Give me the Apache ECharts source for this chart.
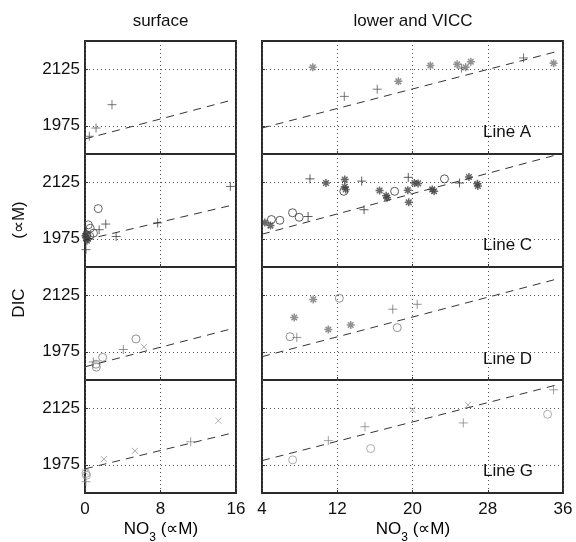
<!DOCTYPE html>
<html>
<head>
<meta charset="utf-8">
<script src="https://cdn.jsdelivr.net/npm/echarts@6/dist/echarts.min.js"></script>
<style>
  html, body { margin: 0; padding: 0; background: #fff; }
  #chart { width: 576px; height: 542px; }
</style>
</head>
<body>
<div id="chart"></div>
<script>
// tick values
const yTicks = [1975, 2125];
const surfTicks = [0, 8, 16];
const lowerTicks = [4, 12, 20, 28, 36];
const lineNames = ["Line A", "Line C", "Line D", "Line G"];

// Line A
const surfA_plus = [[0.46, 1947], [1.17, 1969], [2.86, 2031]];
const surfA_fit = [[0, 1940], [15.4, 2042]];
const lowA_plus = [[12.75, 2053], [16.25, 2072], [25.2, 2128], [31.8, 2155]];
const lowA_star = [[9.4, 2130], [18.5, 2093], [21.9, 2135], [24.75, 2138], [25.65, 2130], [26.2, 2145], [35.0, 2141]];
const lowA_fit = [[4, 1969], [35.5, 2173]];

// Line C
const surfC_plus = [[0.1, 1946], [1.5, 1999], [2.2, 2014], [3.3, 1981], [7.7, 2017], [15.4, 2114]];
const surfC_circ = [[1.4, 2055], [0.35, 2012], [0.55, 2003], [0.9, 1990], [0.2, 1985], [0.5, 1982]];
const surfC_star = [[0.05, 1983], [0.1, 1978], [0.2, 1970], [0.3, 1975], [0.15, 1988]];
const surfC_fit = [[0, 1972], [15.4, 2063]];
const lowC_plus = [[8.9, 2034], [9.1, 2134], [14.6, 2128], [14.85, 2052], [19.55, 2138], [25.0, 2123]];
const lowC_circ = [[5.0, 2026], [5.9, 2024], [7.25, 2044], [7.95, 2032], [12.7, 2101], [18.1, 2101], [23.4, 2134]];
const lowC_star = [[4.3, 2018], [4.9, 2010], [10.8, 2123], [12.8, 2132], [12.8, 2113], [12.9, 2106], [16.5, 2103],
  [17.3, 2084], [17.2, 2089], [19.5, 2104], [19.6, 2072], [20.2, 2123], [20.6, 2122], [22.1, 2106], [22.3, 2101],
  [26.0, 2139], [26.9, 2121], [26.95, 2115]];
const lowC_fit = [[4, 1987], [35.5, 2199]];

// Line D
const surfD_circ = [[5.4, 2009], [1.87, 1960], [1.17, 1942], [1.2, 1934]];
const surfD_plus = [[4.06, 1981], [0.88, 1948]];
const surfD_cross = [[6.25, 1988]];
const surfD_fit = [[0, 1935], [15.4, 2035]];
const lowD_star = [[9.45, 2114], [7.43, 2066], [11.05, 2034], [13.43, 2046]];
const lowD_circ = [[12.22, 2117], [6.98, 2015], [18.38, 2039]];
const lowD_plus = [[7.7, 2013], [17.9, 2088], [20.5, 2101]];
const lowD_fit = [[4, 1962], [35.5, 2169]];

// Line G
const surfG_cross = [[14.13, 2092], [5.3, 2012], [2.0, 1990], [0.05, 1955]];
const surfG_plus = [[11.2, 2036], [0.1, 1930]];
const surfG_circ = [[0.1, 1952], [0.15, 1947]];
const surfG_fit = [[0, 1964], [15.4, 2058]];
const lowG_circ = [[7.26, 1988], [15.55, 2018], [34.36, 2109]];
const lowG_plus = [[11.05, 2039], [14.95, 2076], [25.4, 2086], [35.0, 2174]];
const lowG_cross = [[20.0, 2121], [25.9, 2134]];
const lowG_fit = [[4, 1986], [35.5, 2188]];

// 符号
const SYM = {
  plus: { symbol: "path://M0,5L10,5M5,0L5,10", size: 9, width: 1 },
  star: { symbol: "path://M0,5L10,5M5,0L5,10M1.5,1.5L8.5,8.5M8.5,1.5L1.5,8.5", size: 8, width: 1.5 },
  circ: { symbol: "circle", size: 8, width: 1 },
  cross: { symbol: "path://M0,0L10,10M10,0L0,10", size: 6, width: 1 },
};

const panels = [
  { row: 0, col: 0, fit: surfA_fit, marks: [["plus", surfA_plus, "#555"]] },
  { row: 0, col: 1, fit: lowA_fit, marks: [["plus", lowA_plus, "#555"], ["star", lowA_star, "#777"]] },
  { row: 1, col: 0, fit: surfC_fit, marks: [["plus", surfC_plus, "#444"], ["circ", surfC_circ, "#444"], ["star", surfC_star, "#444"]] },
  { row: 1, col: 1, fit: lowC_fit, marks: [["plus", lowC_plus, "#333"], ["circ", lowC_circ, "#333"], ["star", lowC_star, "#444"]] },
  { row: 2, col: 0, fit: surfD_fit, marks: [["circ", surfD_circ, "#777"], ["plus", surfD_plus, "#777"], ["cross", surfD_cross, "#999"]] },
  { row: 2, col: 1, fit: lowD_fit, marks: [["star", lowD_star, "#777"], ["circ", lowD_circ, "#777"], ["plus", lowD_plus, "#777"]] },
  { row: 3, col: 0, fit: surfG_fit, marks: [["cross", surfG_cross, "#999"], ["plus", surfG_plus, "#888"], ["circ", surfG_circ, "#999"]] },
  { row: 3, col: 1, fit: lowG_fit, marks: [["circ", lowG_circ, "#999"], ["plus", lowG_plus, "#888"], ["cross", lowG_cross, "#999"]] },
];

const FONT = "'Liberation Sans', Arial, Helvetica, sans-serif";
const colLeft = [85, 262];
const colWidth = [151, 301];
const rowTop = [41, 154, 267, 380];
const rowH = 113;

const grid = [], xAxis = [], yAxis = [], series = [];

panels.forEach(function (p, i) {
  grid.push({
    left: colLeft[p.col], top: rowTop[p.row], width: colWidth[p.col], height: rowH,
    show: true, borderColor: "#2a2a2a", borderWidth: 2, backgroundColor: "transparent",
  });
  const xt = p.col === 0 ? surfTicks : lowerTicks;
  xAxis.push({
    gridIndex: i, type: "value",
    min: xt[0], max: xt[xt.length - 1],
    axisLine: { show: false },
    axisTick: { show: true, inside: true, length: 3, customValues: xt, lineStyle: { color: "#333" } },
    axisLabel: {
      show: p.row === 3, customValues: xt, margin: 8, fontSize: 17, color: "#111", fontFamily: FONT,
      formatter: function (v) { return String(v); },
    },
    splitLine: { show: true, lineStyle: { type: [1, 3], color: "#555", width: 1 } },
  });
  yAxis.push({
    gridIndex: i, type: "value", min: 1900, max: 2200,
    axisLine: { show: false },
    axisTick: { show: true, inside: true, length: 3, customValues: yTicks, lineStyle: { color: "#333" } },
    axisLabel: {
      show: p.col === 0, customValues: yTicks, margin: 5, fontSize: 17, color: "#111", fontFamily: FONT,
      formatter: function (v) { return String(v); },
    },
    splitLine: { show: true, lineStyle: { type: [1, 3], color: "#555", width: 1 } },
  });
  series.push({
    type: "line", xAxisIndex: i, yAxisIndex: i, data: p.fit,
    symbol: "none", silent: true,
    lineStyle: { type: [8, 6], color: "#333", width: 1 },
  });
  p.marks.forEach(function (m) {
    const s = SYM[m[0]];
    series.push({
      type: "scatter", xAxisIndex: i, yAxisIndex: i, data: m[1],
      symbol: s.symbol, symbolSize: s.size, silent: true,
      itemStyle: { color: "transparent", borderColor: m[2], borderWidth: s.width },
    });
  });
});

const textStyle = { font: "17px " + FONT, fill: "#111" };
const graphic = [
  { type: "text", style: Object.assign({ text: "surface", x: 160.5, y: 21, align: "center", verticalAlign: "middle" }, textStyle) },
  { type: "text", style: Object.assign({ text: "lower and VICC", x: 413, y: 21, align: "center", verticalAlign: "middle" }, textStyle) },
  { type: "text", x: 19, y: 303, rotation: Math.PI / 2, style: Object.assign({ text: "DIC", align: "center", verticalAlign: "middle" }, textStyle) },
  { type: "text", x: 19, y: 220, rotation: Math.PI / 2, style: Object.assign({ text: "(∝M)", align: "center", verticalAlign: "middle" }, textStyle) },
];
const lineLabelY = [132.5, 245.5, 359, 471];
lineNames.forEach(function (n, r) {
  graphic.push({ type: "text", style: Object.assign({ text: n, x: 483, y: lineLabelY[r], align: "left", verticalAlign: "middle" }, textStyle) });
});
[161, 413].forEach(function (cx) {
  graphic.push({
    type: "text",
    style: {
      text: "{a|NO}{s|3}{a| (∝M)}", x: cx, y: 515.5, align: "center", verticalAlign: "top",
      rich: {
        a: { fontSize: 17, fontFamily: FONT, color: "#111", lineHeight: 28 },
        s: { fontSize: 12, fontFamily: FONT, color: "#111", lineHeight: 13, verticalAlign: "bottom" },
      },
    },
  });
});

const myChart = echarts.init(document.getElementById("chart"));
myChart.setOption({
  animation: false,
  grid: grid,
  xAxis: xAxis,
  yAxis: yAxis,
  series: series,
  graphic: graphic,
});
</script>
</body>
</html>
